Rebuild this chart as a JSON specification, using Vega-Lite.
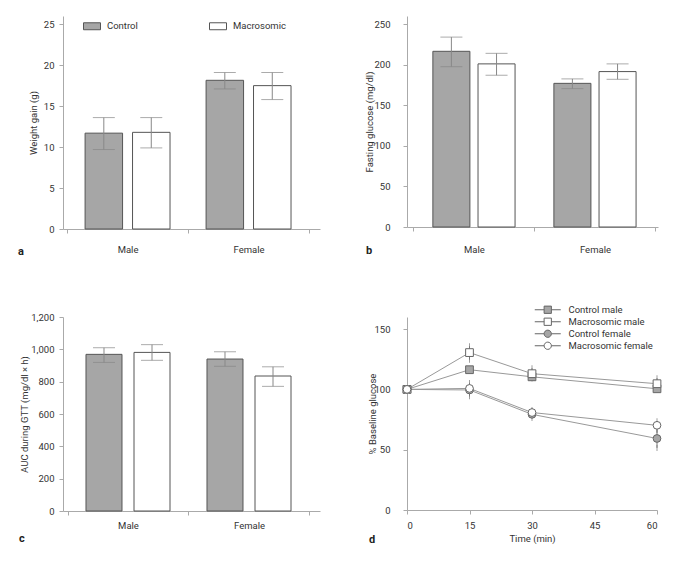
{
  "$schema": "https://vega.github.io/schema/vega-lite/v6.json",
  "padding": {"left": 18, "top": 16, "right": 5, "bottom": 5},
  "background": "white",
  "config": {
    "font": "Roboto",
    "view": {"stroke": null},
    "axis": {"domainColor": "#aaa", "tickColor": "#aaa", "tickSize": 4, "labelFont": "Roboto", "labelFontSize": 9.5, "labelColor": "#333", "titleFont": "Roboto", "titleFontSize": 9.5, "titleFontWeight": "normal", "titleColor": "#333", "grid": false, "labelPadding": 5, "labelOverlap": false},
    "legend": {"labelFont": "Roboto", "labelFontSize": 9.5, "labelColor": "#333"},
    "title": {"font": "Roboto", "fontSize": 11, "fontWeight": "bold", "color": "#222"}
  },
  "resolve": {"scale": {"fill": "independent", "shape": "independent", "x": "independent", "y": "independent", "xOffset": "independent"}, "legend": {"fill": "independent", "shape": "independent"}},
  "columns": 2,
  "spacing": {"row": 88, "column": 87},
  "bounds": "flush",
  "align": "each",
  "concat": [
    {
      "width": 257, "height": 213,
      "title": {"text": "a", "orient": "bottom", "anchor": "start", "frame": "group", "dx": -45, "dy": -12},
      "data": {"values": [
        {"sex": "Male", "group": "Control", "mean": 11.7, "lo": 9.7, "hi": 13.6},
        {"sex": "Male", "group": "Macrosomic", "mean": 11.8, "lo": 9.9, "hi": 13.6},
        {"sex": "Female", "group": "Control", "mean": 18.15, "lo": 17.1, "hi": 19.1},
        {"sex": "Female", "group": "Macrosomic", "mean": 17.5, "lo": 15.8, "hi": 19.1}
      ]},
      "encoding": {
        "x": {"field": "sex", "type": "nominal", "sort": ["Male", "Female"], "scale": {"paddingInner": 0, "paddingOuter": 0.062, "align": 0.27}, "axis": {"title": null, "labelAngle": 0, "tickBand": "extent", "labelPadding": 11}},
        "xOffset": {"field": "group", "type": "nominal", "sort": ["Control", "Macrosomic"], "scale": {"paddingInner": 0.21, "paddingOuter": 0.38}}
      },
      "layer": [
        {"mark": {"type": "bar", "stroke": "#555", "strokeWidth": 1},
         "encoding": {
           "y": {"field": "mean", "type": "quantitative", "title": "Weight gain (g)", "scale": {"domain": [0, 25]}, "axis": {"values": [0, 5, 10, 15, 20, 25], "labelOverlap": false, "minExtent": 25, "maxExtent": 25, "titlePadding": 0}},
           "fill": {"field": "group", "type": "nominal", "scale": {"domain": ["Control", "Macrosomic"], "range": ["#a6a6a6", "#ffffff"]},
             "legend": {"title": null, "orient": "none", "direction": "horizontal", "legendX": 20, "legendY": 1, "symbolType": "M-1,-0.41H1V0.41H-1Z", "symbolSize": 289, "symbolStrokeColor": "#555", "symbolStrokeWidth": 1, "labelOffset": 6, "columnPadding": 69}}
         }},
        {"mark": {"type": "rule", "color": "#888", "strokeWidth": 1},
         "encoding": {"y": {"field": "lo", "type": "quantitative", "title": "Weight gain (g)"}, "y2": {"field": "hi"}}},
        {"mark": {"type": "tick", "color": "#888", "size": 22, "thickness": 1},
         "encoding": {"y": {"field": "lo", "type": "quantitative", "title": "Weight gain (g)"}}},
        {"mark": {"type": "tick", "color": "#888", "size": 22, "thickness": 1},
         "encoding": {"y": {"field": "hi", "type": "quantitative", "title": "Weight gain (g)"}}}
      ]
    },
    {
      "width": 251, "height": 211,
      "title": {"text": "b", "orient": "bottom", "anchor": "start", "frame": "group", "dx": -41, "dy": -13},
      "data": {"values": [
        {"sex": "Male", "group": "Control", "mean": 216.5, "lo": 197.5, "hi": 234},
        {"sex": "Male", "group": "Macrosomic", "mean": 201, "lo": 187, "hi": 214},
        {"sex": "Female", "group": "Control", "mean": 177, "lo": 170.5, "hi": 182.5},
        {"sex": "Female", "group": "Macrosomic", "mean": 191.5, "lo": 182, "hi": 201}
      ]},
      "encoding": {
        "x": {"field": "sex", "type": "nominal", "sort": ["Male", "Female"], "scale": {"paddingInner": 0, "paddingOuter": 0.037, "align": 0.72}, "axis": {"title": null, "labelAngle": 0, "tickBand": "extent", "labelPadding": 13}},
        "xOffset": {"field": "group", "type": "nominal", "sort": ["Control", "Macrosomic"], "scale": {"paddingInner": 0.18, "paddingOuter": 0.43}}
      },
      "layer": [
        {"mark": {"type": "bar", "stroke": "#555", "strokeWidth": 1},
         "encoding": {
           "y": {"field": "mean", "type": "quantitative", "title": "Fasting glucose (mg/dl)", "scale": {"domain": [0, 250]}, "axis": {"values": [0, 50, 100, 150, 200, 250], "labelOverlap": false, "labelPadding": 13, "minExtent": 33, "maxExtent": 33, "titlePadding": 0}},
           "fill": {"field": "group", "type": "nominal", "scale": {"domain": ["Control", "Macrosomic"], "range": ["#a6a6a6", "#ffffff"]}, "legend": null}
         }},
        {"mark": {"type": "rule", "color": "#888", "strokeWidth": 1},
         "encoding": {"y": {"field": "lo", "type": "quantitative", "title": "Fasting glucose (mg/dl)"}, "y2": {"field": "hi"}}},
        {"mark": {"type": "tick", "color": "#888", "size": 22, "thickness": 1},
         "encoding": {"y": {"field": "lo", "type": "quantitative", "title": "Fasting glucose (mg/dl)"}}},
        {"mark": {"type": "tick", "color": "#888", "size": 22, "thickness": 1},
         "encoding": {"y": {"field": "hi", "type": "quantitative", "title": "Fasting glucose (mg/dl)"}}}
      ]
    },
    {
      "width": 257, "height": 194,
      "title": {"text": "c", "orient": "top", "anchor": "start", "frame": "group", "dx": -44, "dy": 236},
      "data": {"values": [
        {"sex": "Male", "group": "Control", "mean": 969, "lo": 919, "hi": 1010},
        {"sex": "Male", "group": "Macrosomic", "mean": 981, "lo": 932, "hi": 1029},
        {"sex": "Female", "group": "Control", "mean": 940, "lo": 895, "hi": 985},
        {"sex": "Female", "group": "Macrosomic", "mean": 835, "lo": 771, "hi": 892}
      ]},
      "encoding": {
        "x": {"field": "sex", "type": "nominal", "sort": ["Male", "Female"], "scale": {"paddingInner": 0, "paddingOuter": 0.062, "align": 0.3}, "axis": {"title": null, "labelAngle": 0, "tickBand": "extent", "labelPadding": 5}},
        "xOffset": {"field": "group", "type": "nominal", "sort": ["Control", "Macrosomic"], "scale": {"paddingInner": 0.25, "paddingOuter": 0.385}}
      },
      "layer": [
        {"mark": {"type": "bar", "stroke": "#555", "strokeWidth": 1},
         "encoding": {
           "y": {"field": "mean", "type": "quantitative", "title": "AUC during GTT (mg/dl × h)", "scale": {"domain": [0, 1200]}, "axis": {"values": [0, 200, 400, 600, 800, 1000, 1200], "tickCount": 7, "format": ",.0f", "labelOverlap": false, "minExtent": 34, "maxExtent": 34, "titlePadding": 0}},
           "fill": {"field": "group", "type": "nominal", "scale": {"domain": ["Control", "Macrosomic"], "range": ["#a6a6a6", "#ffffff"]}, "legend": null}
         }},
        {"mark": {"type": "rule", "color": "#888", "strokeWidth": 1},
         "encoding": {"y": {"field": "lo", "type": "quantitative", "title": "AUC during GTT (mg/dl × h)"}, "y2": {"field": "hi"}}},
        {"mark": {"type": "tick", "color": "#888", "size": 22, "thickness": 1},
         "encoding": {"y": {"field": "lo", "type": "quantitative", "title": "AUC during GTT (mg/dl × h)"}}},
        {"mark": {"type": "tick", "color": "#888", "size": 22, "thickness": 1},
         "encoding": {"y": {"field": "hi", "type": "quantitative", "title": "AUC during GTT (mg/dl × h)"}}}
      ]
    },
    {
      "width": 250, "height": 193,
      "title": {"text": "d", "orient": "top", "anchor": "start", "frame": "group", "dx": -38, "dy": 244},
      "data": {"values": [
        {"series": "Control male", "time": 0, "value": 100, "lo": null, "hi": null},
        {"series": "Control male", "time": 15, "value": 116.3, "lo": null, "hi": null},
        {"series": "Control male", "time": 30, "value": 110.4, "lo": null, "hi": null},
        {"series": "Control male", "time": 60, "value": 100.5, "lo": null, "hi": null},
        {"series": "Macrosomic male", "time": 0, "value": 100, "lo": null, "hi": null},
        {"series": "Macrosomic male", "time": 15, "value": 130.5, "lo": 124.6, "hi": 135.8},
        {"series": "Macrosomic male", "time": 30, "value": 113, "lo": 109, "hi": 117.6},
        {"series": "Macrosomic male", "time": 60, "value": 104.7, "lo": 100.5, "hi": 109.3},
        {"series": "Control female", "time": 0, "value": 100, "lo": null, "hi": null},
        {"series": "Control female", "time": 15, "value": 99.5, "lo": 94.3, "hi": 103},
        {"series": "Control female", "time": 30, "value": 79.3, "lo": 76.2, "hi": 82},
        {"series": "Control female", "time": 60, "value": 59.3, "lo": 51.5, "hi": 66.5},
        {"series": "Macrosomic female", "time": 0, "value": 100, "lo": null, "hi": null},
        {"series": "Macrosomic female", "time": 15, "value": 100.8, "lo": 96.5, "hi": 105.2},
        {"series": "Macrosomic female", "time": 30, "value": 80.8, "lo": 78.5, "hi": 83},
        {"series": "Macrosomic female", "time": 60, "value": 70.2, "lo": 66.5, "hi": 73.5}
      ]},
      "encoding": {
        "x": {"field": "time", "type": "quantitative", "title": "Time (min)", "scale": {"domain": [0, 60]}, "axis": {"values": [0, 15, 30, 45, 60], "labelPadding": 6, "titlePadding": 4}}
      },
      "layer": [
        {"mark": {"type": "line", "color": "#999", "strokeWidth": 1},
         "encoding": {
           "y": {"field": "value", "type": "quantitative", "title": "% Baseline glucose", "scale": {"domain": [0, 150]}, "axis": {"values": [0, 50, 100, 150], "labelOverlap": false, "labelPadding": 13, "minExtent": 30, "maxExtent": 30, "titlePadding": 0}},
           "detail": {"field": "series", "type": "nominal"}
         }},
        {"mark": {"type": "rule", "color": "#777", "strokeWidth": 1},
         "encoding": {"y": {"field": "lo", "type": "quantitative", "title": "% Baseline glucose"}, "y2": {"field": "hi"}}},
        {"mark": {"type": "tick", "color": "#777", "size": 6, "thickness": 1},
         "encoding": {"y": {"field": "lo", "type": "quantitative", "title": "% Baseline glucose"}}},
        {"mark": {"type": "tick", "color": "#777", "size": 6, "thickness": 1},
         "encoding": {"y": {"field": "hi", "type": "quantitative", "title": "% Baseline glucose"}}},
        {"transform": [{"filter": "indexof(datum.series, 'female') < 0"}],
         "mark": {"type": "point", "shape": "square", "filled": true, "size": 60, "stroke": "#666", "strokeWidth": 1, "opacity": 1},
         "encoding": {
           "y": {"field": "value", "type": "quantitative", "title": "% Baseline glucose"},
           "fill": {"field": "series", "type": "nominal", "scale": {"domain": ["Control male", "Macrosomic male", "Control female", "Macrosomic female"], "range": ["#a6a6a6", "#ffffff", "#a6a6a6", "#ffffff"]}}
         }},
        {"transform": [{"filter": "indexof(datum.series, 'female') >= 0"}],
         "mark": {"type": "point", "shape": "circle", "filled": true, "size": 60, "stroke": "#666", "strokeWidth": 1, "opacity": 1},
         "encoding": {
           "y": {"field": "value", "type": "quantitative", "title": "% Baseline glucose"},
           "fill": {"field": "series", "type": "nominal", "scale": {"domain": ["Control male", "Macrosomic male", "Control female", "Macrosomic female"], "range": ["#a6a6a6", "#ffffff", "#a6a6a6", "#ffffff"]}}
         }},
        {"transform": [{"filter": "datum.time < 0"}],
         "mark": {"type": "point", "filled": true, "size": 64, "stroke": "#777", "strokeWidth": 1, "opacity": 1},
         "encoding": {
           "y": {"field": "value", "type": "quantitative", "title": "% Baseline glucose"},
           "fill": {"field": "series", "type": "nominal", "scale": {"domain": ["Control male", "Macrosomic male", "Control female", "Macrosomic female"], "range": ["#a6a6a6", "#ffffff", "#a6a6a6", "#ffffff"]},
             "legend": {"title": null, "orient": "none", "direction": "vertical", "legendX": 136, "legendY": -12, "symbolSize": 64, "symbolStrokeColor": "#777", "symbolStrokeWidth": 1, "labelOffset": 16, "rowPadding": 0}},
           "shape": {"field": "series", "type": "nominal", "scale": {"domain": ["Control male", "Macrosomic male", "Control female", "Macrosomic female"], "range": ["M-3.25,0H-0.91M0.91,0H3.25M-0.91,-0.91H0.91V0.91H-0.91Z", "M-3.25,0H-0.91M0.91,0H3.25M-0.91,-0.91H0.91V0.91H-0.91Z", "M-3.25,0H-0.91M0.91,0H3.25M-0.91,0A0.91,0.91 0 1,1 0.91,0A0.91,0.91 0 1,1 -0.91,0Z", "M-3.25,0H-0.91M0.91,0H3.25M-0.91,0A0.91,0.91 0 1,1 0.91,0A0.91,0.91 0 1,1 -0.91,0Z"]}}
         }}
      ]
    }
  ]
}
